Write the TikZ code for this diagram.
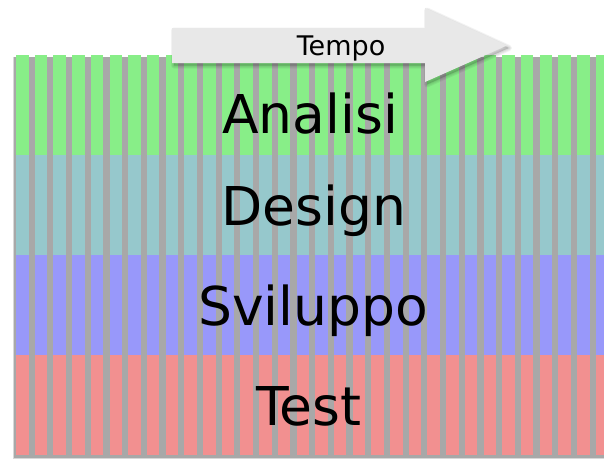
\documentclass[tikz,border=0pt]{standalone}
\usepackage{fontspec}
\setmainfont{DejaVu Sans}
\definecolor{anaColor}{HTML}{88EE88}
\definecolor{desColor}{HTML}{96C8CC}
\definecolor{svColor}{HTML}{9898FA}
\definecolor{testColor}{HTML}{F29090}
\definecolor{gapGray}{HTML}{A8A8A8}
\definecolor{arrowGray}{HTML}{E8E8E8}
\tikzset{
  phase/.style={anchor=base, inner sep=0pt, text=black,
    font=\fontsize{53.5}{60}\selectfont},
  timelabel/.style={anchor=base, inner sep=0pt, text=black,
    font=\fontsize{27}{30}\selectfont},
  timearrow/.style={fill=arrowGray, draw=none},
  softshadow/.style={draw=black, line join=round, line width=#1,
    draw opacity=0.05, fill=black, fill opacity=0.05},
}
\begin{document}
\begin{tikzpicture}[x=1pt, y=-1pt]
  \useasboundingbox (0,0) rectangle (604,459);
  \fill[white] (0,0) rectangle (604,459);
  % soft edge and shaded gaps between the time slices
  \fill[gapGray!45] (13,57) rectangle (604,459);
  \fill[gapGray] (14,56.5) rectangle (604,458);
  % time slices, one column per iteration, split into the four phases
  \begin{scope}
    \clip (0,0) rectangle (604,459);
    \foreach \i in {0,...,31} {
      \pgfmathsetmacro{\xa}{16+18.7*\i}
      \pgfmathsetmacro{\xb}{\xa+12.5}
      \fill[anaColor]  (\xa,55)  rectangle (\xb,155);
      \fill[desColor]  (\xa,155) rectangle (\xb,255);
      \fill[svColor]   (\xa,255) rectangle (\xb,355);
      \fill[testColor] (\xa,355) rectangle (\xb,455);
    }
  \end{scope}
  % blurred shadow of the time arrow
  \foreach \w in {6,4,2} {
    \path[softshadow=\w, shift={(2,2.5)}] (172,28) -- (425,28) -- (425,8)
      -- (507,45.5) -- (425,82) -- (425,63) -- (172,63) -- cycle;
  }
  % time arrow
  \path[timearrow] (172,28) -- (425,28) -- (425,8) -- (507,45.5)
    -- (425,82) -- (425,63) -- (172,63) -- cycle;
  \node[timelabel] (tempo) at (341,55) {Tempo};
  % phase labels
  \node[phase] (analisi)  at (310,133) {Analisi};
  \node[phase] (design)   at (314,225) {Design};
  \node[phase] (sviluppo) at (313,325) {Sviluppo};
  \node[phase] (test)     at (309,425) {Test};
\end{tikzpicture}
\end{document}
